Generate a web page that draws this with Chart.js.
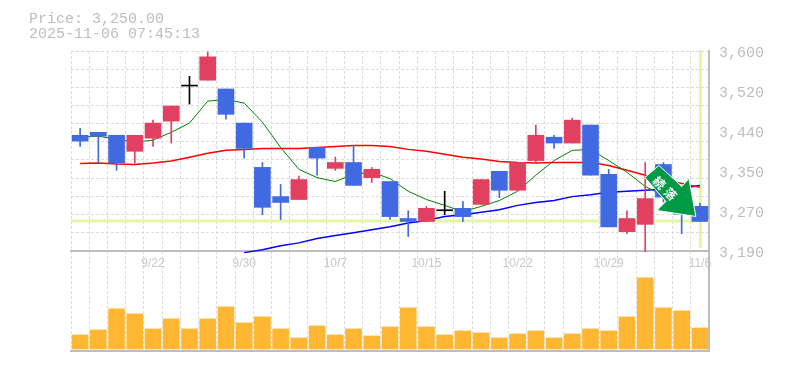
<!DOCTYPE html>
<html>
<head>
<meta charset="utf-8">
<style>
    html, body { margin: 0; padding: 0; background: #fff; }
    canvas { display: block; }
</style>
<script src="https://cdn.jsdelivr.net/npm/chart.js@4/dist/chart.umd.min.js"></script>
</head>
<body>
<canvas id="chart" width="785" height="370"></canvas>
<script>
const headerLines = ['Price: 3,250.00', '2025-11-06 07:45:13']
const categories = ['9/16', '9/17', '9/18', '9/19', '9/22', '9/24', '9/25', '9/26', '9/29', '9/30', '10/1', '10/2', '10/3', '10/6', '10/7', '10/8', '10/9', '10/10', '10/14', '10/15', '10/16', '10/17', '10/20', '10/21', '10/22', '10/23', '10/24', '10/27', '10/28', '10/29', '10/30', '10/31', '11/4', '11/5', '11/6']
const dateTicks = ['9/22', '9/30', '10/7', '10/15', '10/22', '10/29', '11/6']
const opens = [3427, 3433, 3427, 3394, 3421, 3456, 3528, 3540, 3522, 3452, 3361, 3301, 3295, 3402, 3359, 3371, 3340, 3332, 3256, 3250, 3272, 3277, 3285, 3353, 3314, 3375, 3423, 3411, 3448, 3347, 3229, 3244, 3367, 3310, 3281]
const closes = [3415, 3425, 3370, 3427, 3452, 3487, 3528, 3588, 3470, 3400, 3279, 3289, 3336, 3380, 3371, 3324, 3357, 3260, 3250, 3277, 3272, 3260, 3336, 3314, 3371, 3427, 3411, 3458, 3345, 3239, 3256, 3297, 3300, 3265, 3250]
const highs = [3441, 3433, 3427, 3427, 3458, 3487, 3548, 3598, 3522, 3452, 3371, 3326, 3343, 3402, 3382, 3406, 3361, 3332, 3272, 3281, 3312, 3291, 3336, 3353, 3371, 3448, 3427, 3462, 3448, 3357, 3272, 3371, 3371, 3310, 3287]
const lows = [3404, 3370, 3355, 3370, 3404, 3411, 3491, 3540, 3460, 3380, 3264, 3254, 3295, 3345, 3355, 3324, 3330, 3254, 3219, 3250, 3264, 3250, 3285, 3299, 3314, 3371, 3400, 3411, 3345, 3239, 3225, 3188, 3290, 3225, 3250]
const volumes = [14, 19, 40, 35, 20, 30, 20, 30, 42, 26, 32, 20, 11, 23, 14, 20, 13, 22, 41, 22, 14, 18, 16, 11, 15, 18, 11, 15, 20, 18, 32, 71, 41, 38, 21]
const maShort = [3423, 3425, 3419, 3413, 3417, 3433, 3452, 3497, 3501, 3493, 3454, 3402, 3357, 3340, 3332, 3347, 3351, 3338, 3312, 3295, 3283, 3270, 3281, 3293, 3312, 3345, 3375, 3396, 3398, 3375, 3351, 3322, 3303, 3285, 3268]
const maMid = [3369, 3370, 3368, 3367, 3370, 3374, 3382, 3390, 3396, 3398, 3400, 3400, 3400, 3402, 3404, 3406, 3406, 3404, 3398, 3394, 3388, 3382, 3378, 3373, 3371, 3370, 3371, 3371, 3371, 3365, 3355, 3345, 3336, 3328, 3320]
const maLong = [null, null, null, null, null, null, null, null, null, 3186, 3192, 3200, 3206, 3215, 3221, 3227, 3233, 3239, 3247, 3252, 3260, 3264, 3269, 3274, 3283, 3289, 3293, 3301, 3305, 3310, 3312, 3314, 3316, 3318, 3324]
const priceTicks = [3600, 3518, 3436, 3354, 3272, 3190]
const priceLabels = ['3,600', '3,520', '3,440', '3,350', '3,270', '3,190']
const gridPrices = [3600, 3562.7, 3525.5, 3488.2, 3450.9, 3413.6, 3376.4, 3339.1, 3301.8, 3264.5, 3227.3, 3190]
const currentPrice = 3250
const arrowText = ['続', '落']

const UP = '#e24060'
const DOWN = '#4169e1'
const DOJI = '#000000'
const candleColor = (i) => (opens[i] === closes[i] ? DOJI : opens[i] < closes[i] ? UP : DOWN)
const candleColors = categories.map((_, i) => candleColor(i))

const overlays = {
    id: 'overlays',
    beforeDatasetsDraw(chart) {
        // current price cross and bottom frame, under the candles
        const { ctx, chartArea, scales } = chart
        const { x, y } = scales
        const py = y.getPixelForValue(currentPrice)
        const px = x.getPixelForValue(categories.length - 1)
        ctx.save()
        ctx.fillStyle = '#e4f5a8'
        ctx.fillRect(chartArea.left, py - 2, chartArea.width, 3)
        ctx.fillRect(px - 1, chartArea.top - 1, 3, y.getPixelForValue(3190) - 2 - chartArea.top)
        ctx.fillStyle = '#bdbdbd'
        ctx.fillRect(chartArea.left - 1, chartArea.bottom - 1, chartArea.width + 2, 2)
        ctx.restore()
    },
    afterDraw(chart) {
        const { ctx, scales } = chart
        ctx.save()
        // header
        ctx.font = '15px "Liberation Mono"'
        ctx.fillStyle = '#bdbdbd'
        ctx.textBaseline = 'alphabetic'
        ctx.fillText(headerLines[0], 29, 23)
        ctx.fillText(headerLines[1], 29, 38)
        // trend arrow, placed from the last close
        const ox = scales.x.getPixelForValue(categories.length - 1)
        const oy = scales.y.getPixelForValue(closes[closes.length - 1])
        const outline = [[-55, -44], [-41, -56], [-18, -35], [-11, -43], [-4, -5], [-43, -11], [-34, -20]]
        ctx.beginPath()
        outline.forEach(([dx, dy], i) => (i ? ctx.lineTo(ox + dx, oy + dy) : ctx.moveTo(ox + dx, oy + dy)))
        ctx.closePath()
        ctx.fillStyle = '#009944'
        ctx.strokeStyle = '#ffffff'
        ctx.lineWidth = 1
        ctx.fill()
        ctx.stroke()
        ctx.translate(ox - 35, oy - 33)
        ctx.rotate(Math.PI / 4)
        ctx.font = 'bold 12px "Noto Sans CJK JP"'
        ctx.fillStyle = '#ffffff'
        ctx.textAlign = 'center'
        ctx.textBaseline = 'middle'
        ctx.fillText(arrowText[0], -8, 0)
        ctx.fillText(arrowText[1], 8, 0)
        ctx.restore()
    }
}

new Chart(document.getElementById('chart'), {
    data: {
        labels: categories,
        datasets: [
            { type: 'bar', label: 'body', data: opens.map((o, i) => [o, closes[i]]), backgroundColor: candleColors, barThickness: 16, minBarLength: 1, grouped: false, order: 1 },
            { type: 'bar', label: 'wick', data: lows.map((l, i) => [l, highs[i]]), backgroundColor: candleColors, barThickness: 1, grouped: false, order: 2 },
            { type: 'bar', label: 'volume', data: volumes, yAxisID: 'vol', backgroundColor: '#ffb733', barThickness: 16, grouped: false, order: 3 },
            { type: 'line', label: 'ma short', data: maShort, borderColor: '#008000', borderWidth: 1, pointRadius: 0, order: 4 },
            { type: 'line', label: 'ma mid', data: maMid, borderColor: '#ff0000', borderWidth: 1.5, pointRadius: 0, order: 5 },
            { type: 'line', label: 'ma long', data: maLong, borderColor: '#0000ff', borderWidth: 1.5, pointRadius: 0, order: 6 }
        ]
    },
    options: {
        responsive: false,
        animation: false,
        layout: { padding: { top: 51, left: 71 } },
        plugins: { legend: { display: false }, tooltip: { enabled: false } },
        scales: {
            x: {
                position: { y: 3190 },
                afterFit(scale) { scale.height = 20 },
                grid: { color: '#dcdcdc', lineWidth: 1, drawTicks: false },
                border: { color: '#bdbdbd', width: 2, dash: [3, 2] },
                ticks: {
                    autoSkip: false,
                    maxRotation: 0,
                    padding: 6,
                    color: '#c8c8c8',
                    font: { family: '"Liberation Sans"', size: 12 },
                    callback(value) {
                        const label = categories[value]
                        return dateTicks.includes(label) ? label : ''
                    }
                }
            },
            y: {
                position: 'right',
                min: 2984,
                max: 3600,
                afterFit(scale) { scale.width = 76 },
                afterBuildTicks(scale) {
                    scale.ticks = [...new Set([...gridPrices, ...priceTicks])].map((value) => ({ value }))
                },
                grid: {
                    drawTicks: false,
                    lineWidth: 1,
                    color: (ctx) => (gridPrices.includes(ctx.tick.value) ? '#dcdcdc' : 'transparent')
                },
                border: { color: '#bdbdbd', width: 2, dash: [3, 2] },
                ticks: {
                    autoSkip: false,
                    padding: 10,
                    labelOffset: 2,
                    color: '#bdbdbd',
                    font: { family: '"Liberation Mono"', size: 15 },
                    callback(value) {
                        const i = priceTicks.indexOf(value)
                        return i < 0 ? '' : priceLabels[i]
                    }
                }
            },
            vol: { display: false, min: -2, max: 297 }
        }
    },
    plugins: [overlays]
})
</script>
</body>
</html>
